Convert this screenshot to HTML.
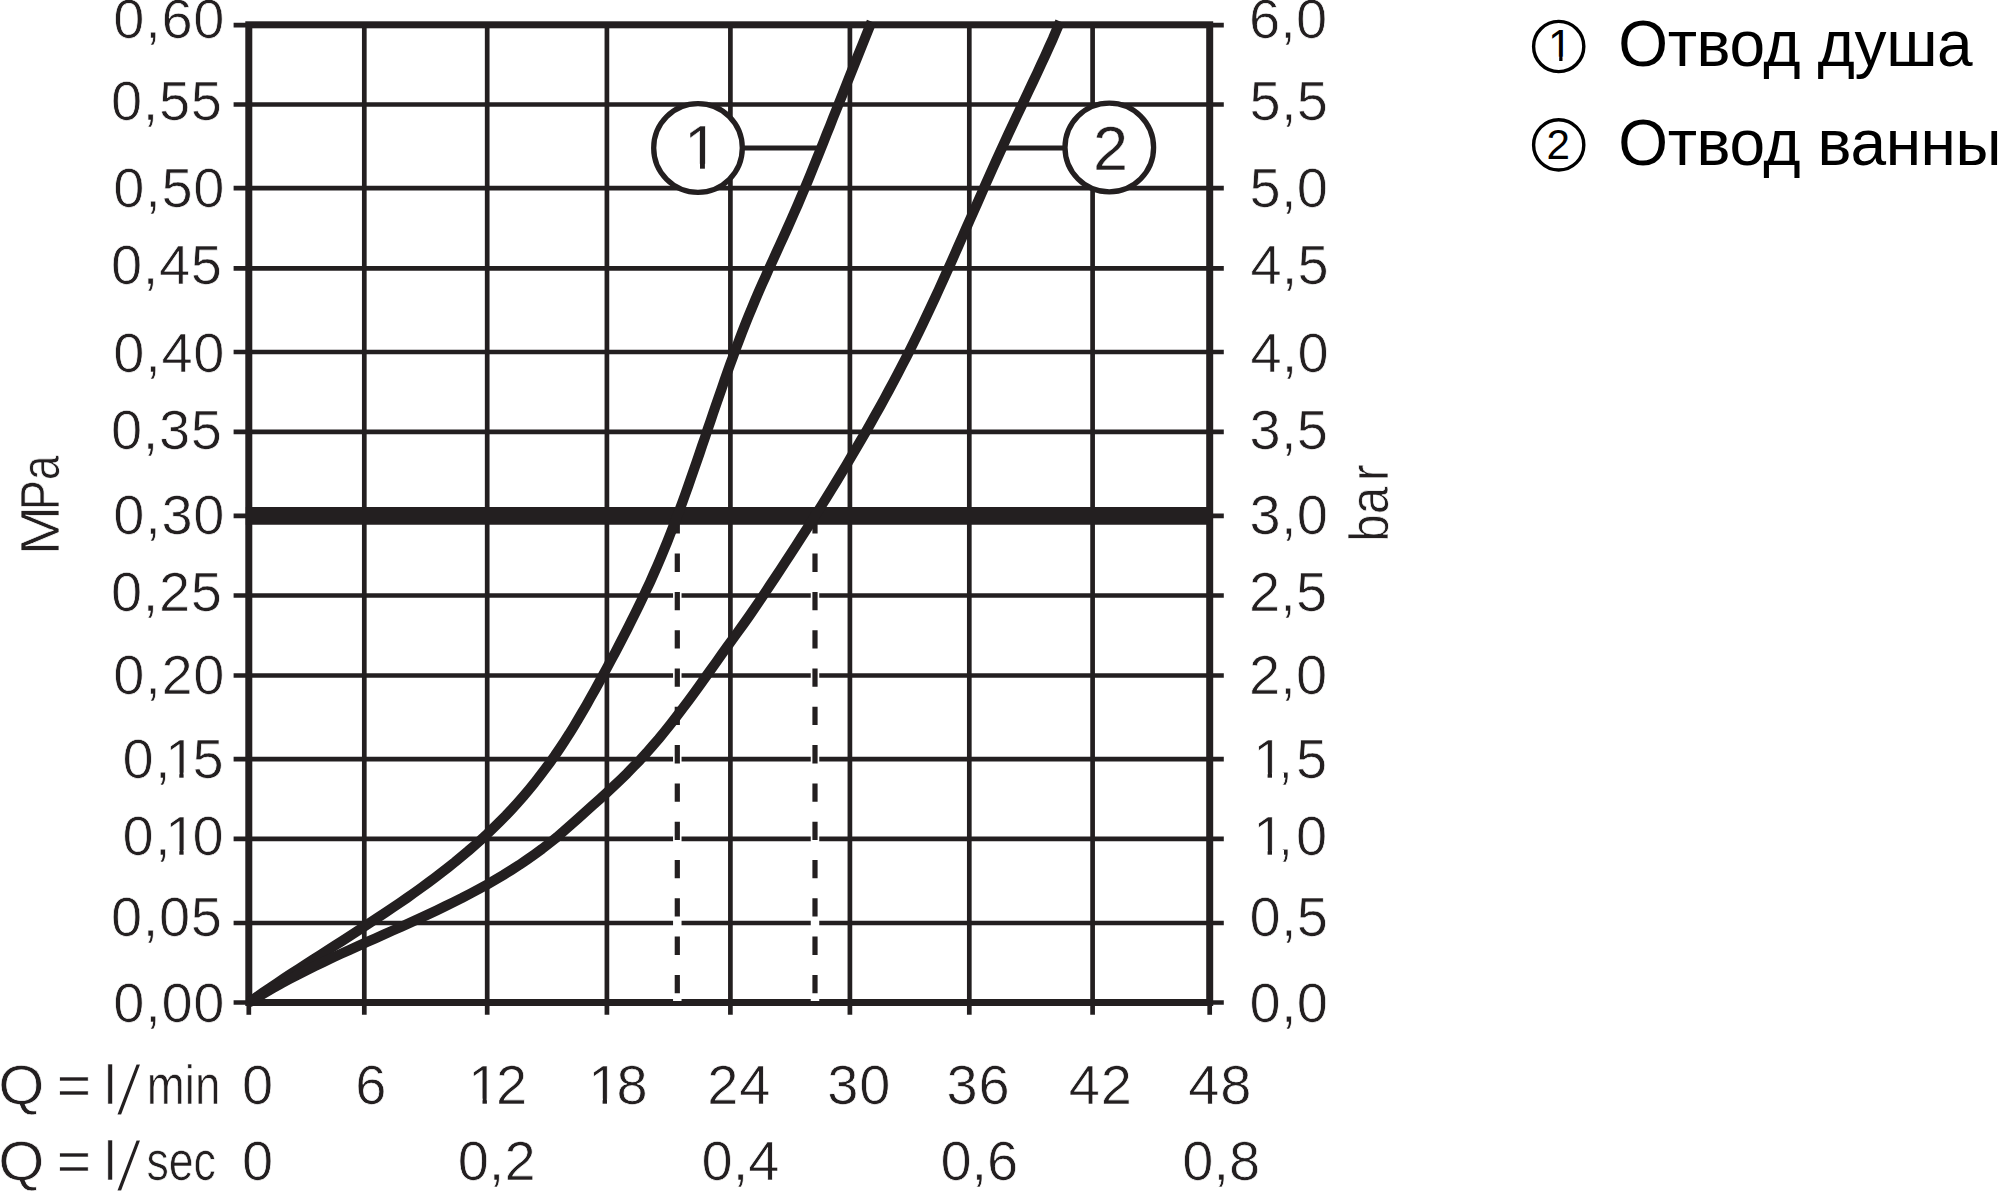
<!DOCTYPE html>
<html lang="ru"><head><meta charset="utf-8"><title>Диаграмма расхода</title>
<style>
html,body{margin:0;padding:0;background:#fff;}
body{width:2000px;height:1192px;overflow:hidden;position:relative;}
svg{position:absolute;left:0;top:0;display:block;}
text{font-family:"Liberation Sans",sans-serif;}
.ax{font-size:56px;fill:#231f20;stroke:#fff;stroke-width:0.7px;}
.cn{fill:#231f20;stroke:#fff;stroke-width:0.4px;}
.lg{font-size:64px;fill:#000;}
.lgd{fill:#000;}
</style></head><body>
<svg width="2000" height="1192" viewBox="0 0 2000 1192">
<rect width="2000" height="1192" fill="#fff"/>
<g stroke="#231f20" stroke-width="4.7" fill="none">
<line x1="364.3" y1="25" x2="364.3" y2="1014.8"/>
<line x1="487.2" y1="25" x2="487.2" y2="1014.8"/>
<line x1="606.9" y1="25" x2="606.9" y2="1014.8"/>
<line x1="730.4" y1="25" x2="730.4" y2="1014.8"/>
<line x1="849.9" y1="25" x2="849.9" y2="1014.8"/>
<line x1="969.3" y1="25" x2="969.3" y2="1014.8"/>
<line x1="1092.6" y1="25" x2="1092.6" y2="1014.8"/>
<line x1="233.6" y1="104.5" x2="1223.8" y2="104.5"/>
<line x1="233.6" y1="188.2" x2="1223.8" y2="188.2"/>
<line x1="233.6" y1="268.3" x2="1223.8" y2="268.3"/>
<line x1="233.6" y1="352.0" x2="1223.8" y2="352.0"/>
<line x1="233.6" y1="431.8" x2="1223.8" y2="431.8"/>
<line x1="233.6" y1="595.5" x2="1223.8" y2="595.5"/>
<line x1="233.6" y1="675.5" x2="1223.8" y2="675.5"/>
<line x1="233.6" y1="759.2" x2="1223.8" y2="759.2"/>
<line x1="233.6" y1="838.9" x2="1223.8" y2="838.9"/>
<line x1="233.6" y1="923.0" x2="1223.8" y2="923.0"/>
<line x1="233.6" y1="25.1" x2="1223.8" y2="25.1"/>
<line x1="233.6" y1="515.8" x2="1223.8" y2="515.8"/>
<line x1="233.6" y1="1002.5" x2="1223.8" y2="1002.5"/>
<line x1="248.8" y1="1000" x2="248.8" y2="1014.8"/>
<line x1="1209.7" y1="1000" x2="1209.7" y2="1014.8"/>
</g>
<rect x="248.8" y="24.8" width="960.9" height="977.7" fill="none" stroke="#231f20" stroke-width="7"/>
<line x1="677.3" y1="520" x2="677.3" y2="1001" stroke="#fff" stroke-width="8.5"/>
<line x1="677.3" y1="515.3" x2="677.3" y2="999" stroke="#231f20" stroke-width="5.2" stroke-dasharray="18.3 20"/>
<line x1="815.0" y1="520" x2="815.0" y2="1001" stroke="#fff" stroke-width="8.5"/>
<line x1="815.0" y1="515.3" x2="815.0" y2="999" stroke="#231f20" stroke-width="5.2" stroke-dasharray="18.3 20"/>
<line x1="245.8" y1="515.8" x2="1212.7" y2="515.8" stroke="#231f20" stroke-width="17.8"/>
<line x1="742" y1="148.1" x2="818" y2="148.1" stroke="#231f20" stroke-width="5"/>
<line x1="1003" y1="148.1" x2="1066" y2="148.1" stroke="#231f20" stroke-width="5"/>
<path d="M248.8 1002.5 L255.8 997.6 L262.8 992.7 L269.9 987.9 L277.0 983.1 L284.2 978.3 L291.4 973.6 L298.6 968.9 L305.8 964.2 L313.1 959.5 L320.3 954.9 L327.6 950.2 L334.9 945.6 L342.1 940.9 L349.4 936.2 L356.7 931.5 L363.9 926.8 L371.1 922.1 L378.3 917.3 L385.5 912.6 L392.7 907.7 L399.8 902.9 L406.9 898.0 L413.9 893.0 L420.9 888.0 L427.9 882.9 L434.8 877.7 L441.6 872.5 L448.4 867.2 L455.1 861.9 L461.7 856.4 L468.3 850.9 L474.8 845.2 L481.2 839.5 L487.5 833.7 L493.7 827.7 L499.8 821.7 L505.9 815.5 L511.8 809.2 L517.6 802.8 L523.3 796.3 L528.9 789.7 L534.4 783.0 L539.7 776.2 L544.9 769.3 L550.0 762.4 L555.0 755.4 L559.8 748.3 L564.5 741.2 L569.1 734.1 L573.6 726.8 L577.9 719.6 L582.3 712.2 L586.5 704.9 L590.7 697.4 L594.9 690.0 L599.0 682.5 L603.1 674.9 L607.2 667.3 L611.3 659.7 L615.4 652.1 L619.4 644.4 L623.4 636.7 L627.4 628.9 L631.3 621.1 L635.2 613.3 L639.0 605.5 L642.8 597.6 L646.5 589.7 L650.2 581.8 L653.7 573.9 L657.2 565.9 L660.6 558.0 L663.9 550.0 L667.2 542.0 L670.3 534.0 L673.5 526.0 L676.5 518.0 L679.5 510.0 L682.5 501.9 L685.4 493.9 L688.3 485.8 L691.1 477.7 L693.9 469.7 L696.7 461.6 L699.5 453.5 L702.2 445.4 L705.0 437.3 L707.7 429.2 L710.5 421.1 L713.2 413.0 L716.0 404.9 L718.8 396.8 L721.6 388.8 L724.4 380.7 L727.2 372.6 L730.1 364.5 L733.1 356.4 L736.0 348.4 L739.1 340.3 L742.1 332.3 L745.3 324.2 L748.5 316.2 L751.8 308.2 L755.1 300.2 L758.5 292.2 L762.0 284.2 L765.6 276.3 L769.1 268.3 L772.8 260.4 L776.4 252.4 L780.0 244.5 L783.6 236.6 L787.2 228.6 L790.7 220.7 L794.2 212.8 L797.7 204.9 L801.0 197.0 L804.4 189.1 L807.7 181.2 L810.9 173.3 L814.1 165.4 L817.3 157.5 L820.5 149.6 L823.7 141.6 L826.8 133.7 L830.0 125.8 L833.1 117.8 L836.3 109.9 L839.5 101.9 L842.7 94.0 L845.8 86.0 L849.0 78.0 L852.2 70.0 L855.4 62.0 L858.6 54.0 L861.9 45.9 L865.1 37.9 L868.3 29.8 L871.6 21.7" fill="none" stroke="#231f20" stroke-width="10.1" stroke-linejoin="round"/>
<path d="M248.8 1002.5 L256.7 997.6 L264.8 992.8 L272.9 988.1 L281.1 983.5 L289.4 979.1 L297.8 974.7 L306.2 970.4 L314.7 966.2 L323.3 962.1 L331.9 958.0 L340.5 954.0 L349.2 950.1 L357.9 946.1 L366.6 942.2 L375.4 938.3 L384.1 934.4 L392.8 930.5 L401.6 926.6 L410.3 922.6 L419.0 918.7 L427.7 914.6 L436.3 910.6 L444.9 906.4 L453.4 902.2 L461.9 898.0 L470.3 893.6 L478.7 889.1 L487.0 884.6 L495.1 879.9 L503.2 875.1 L511.2 870.1 L519.1 865.1 L526.9 859.8 L534.6 854.4 L542.1 848.9 L549.5 843.1 L556.8 837.2 L563.9 831.0 L571.0 824.8 L578.1 818.4 L585.3 812.0 L592.5 805.6 L599.6 799.2 L606.7 792.7 L613.6 786.3 L620.4 779.8 L627.1 773.3 L633.6 766.6 L640.1 759.9 L646.4 753.0 L652.6 745.9 L658.8 738.7 L664.8 731.4 L670.8 723.9 L676.6 716.4 L682.4 708.8 L688.1 701.2 L693.8 693.5 L699.4 685.8 L704.9 678.0 L710.4 670.3 L715.9 662.6 L721.3 654.9 L726.8 647.2 L732.3 639.6 L737.9 631.9 L743.4 624.2 L748.9 616.5 L754.3 608.7 L759.5 601.0 L764.7 593.2 L769.9 585.4 L775.1 577.6 L780.3 569.7 L785.5 561.8 L790.6 553.9 L795.8 546.0 L800.9 538.0 L806.1 530.0 L811.2 522.0 L816.2 513.9 L821.3 505.9 L826.4 497.8 L831.4 489.6 L836.4 481.5 L841.3 473.3 L846.3 465.1 L851.1 456.9 L856.0 448.7 L860.8 440.4 L865.6 432.2 L870.3 423.9 L875.0 415.6 L879.7 407.2 L884.3 398.9 L888.8 390.5 L893.3 382.1 L897.8 373.7 L902.1 365.3 L906.5 356.9 L910.7 348.5 L914.9 340.0 L919.1 331.5 L923.2 323.0 L927.2 314.5 L931.2 306.0 L935.2 297.5 L939.1 289.0 L943.0 280.4 L946.8 271.9 L950.7 263.3 L954.5 254.7 L958.3 246.1 L962.1 237.5 L965.9 228.9 L969.7 220.3 L973.5 211.7 L977.3 203.1 L981.1 194.5 L984.9 185.8 L988.7 177.2 L992.6 168.5 L996.5 159.9 L1000.4 151.3 L1004.4 142.6 L1008.4 133.9 L1012.4 125.3 L1016.5 116.6 L1020.6 108.0 L1024.7 99.3 L1028.8 90.7 L1032.9 82.0 L1037.0 73.4 L1041.0 64.7 L1045.0 56.1 L1048.9 47.4 L1052.8 38.8 L1056.5 30.1 L1060.2 21.5" fill="none" stroke="#231f20" stroke-width="10.1" stroke-linejoin="round"/>
<circle cx="698" cy="148" r="44.3" fill="#fff" stroke="#231f20" stroke-width="5.3"/>
<circle cx="1109.3" cy="147.5" r="44.3" fill="#fff" stroke="#231f20" stroke-width="5.3"/>
<text class="cn" x="683.9" y="169.3" style="font-size:62.5px">1</text>
<text class="cn" x="1093.0" y="169.5" style="font-size:63px">2</text>
<text class="ax" x="113.3" y="38.3" letter-spacing="0.7">0,60</text>
<text class="ax" x="1248.9" y="38.3" letter-spacing="0.25">6,0</text>
<text class="ax" x="110.9" y="120.1" letter-spacing="0.7">0,55</text>
<text class="ax" x="1249.5" y="120.1" letter-spacing="0.25">5,5</text>
<text class="ax" x="113.3" y="206.6" letter-spacing="0.7">0,50</text>
<text class="ax" x="1249.5" y="206.6" letter-spacing="0.25">5,0</text>
<text class="ax" x="110.9" y="284.1" letter-spacing="0.7">0,45</text>
<text class="ax" x="1250.4" y="284.1" letter-spacing="0.25">4,5</text>
<text class="ax" x="113.3" y="371.8" letter-spacing="0.7">0,40</text>
<text class="ax" x="1250.4" y="371.8" letter-spacing="0.25">4,0</text>
<text class="ax" x="110.9" y="448.6" letter-spacing="0.7">0,35</text>
<text class="ax" x="1249.6" y="448.6" letter-spacing="0.25">3,5</text>
<text class="ax" x="113.3" y="534.3" letter-spacing="0.7">0,30</text>
<text class="ax" x="1249.6" y="534.3" letter-spacing="0.25">3,0</text>
<text class="ax" x="110.9" y="610.9" letter-spacing="0.7">0,25</text>
<text class="ax" x="1248.9" y="610.9" letter-spacing="0.25">2,5</text>
<text class="ax" x="113.3" y="693.5" letter-spacing="0.7">0,20</text>
<text class="ax" x="1248.9" y="693.5" letter-spacing="0.25">2,0</text>
<text class="ax" y="777.6"><tspan x="122.6" letter-spacing="1.2">0,</tspan><tspan x="164.9">1</tspan><tspan x="192.6">5</tspan></text>
<text class="ax" y="777.6"><tspan x="1253.2">1</tspan><tspan x="1277.6">,</tspan><tspan x="1296.0">5</tspan></text>
<text class="ax" y="855.0"><tspan x="122.6" letter-spacing="1.2">0,</tspan><tspan x="164.9">1</tspan><tspan x="192.6">0</tspan></text>
<text class="ax" y="855.0"><tspan x="1253.2">1</tspan><tspan x="1277.6">,</tspan><tspan x="1296.0">0</tspan></text>
<text class="ax" x="110.9" y="936.3" letter-spacing="0.7">0,05</text>
<text class="ax" x="1249.5" y="936.3" letter-spacing="0.25">0,5</text>
<text class="ax" x="113.3" y="1022.3" letter-spacing="0.7">0,00</text>
<text class="ax" x="1249.5" y="1022.3" letter-spacing="0.25">0,0</text>
<text class="ax" x="241.9" y="1103.6">0</text>
<text class="ax" x="355.2" y="1103.6">6</text>
<text class="ax" x="707.2" y="1103.6" letter-spacing="0.8">24</text>
<text class="ax" x="827.3" y="1103.6" letter-spacing="0.8">30</text>
<text class="ax" x="946.6" y="1103.6" letter-spacing="0.8">36</text>
<text class="ax" x="1068.8" y="1103.6" letter-spacing="0.8">42</text>
<text class="ax" x="1188.2" y="1103.6" letter-spacing="0.8">48</text>
<text class="ax" y="1103.6"><tspan x="468.1">1</tspan><tspan x="496.0">2</tspan></text>
<text class="ax" y="1103.6"><tspan x="588.2">1</tspan><tspan x="616.5">8</tspan></text>
<text class="ax" x="241.9" y="1180.4">0</text>
<text class="ax" x="457.7" y="1180.4">0,2</text>
<text class="ax" x="701.6" y="1180.4">0,4</text>
<text class="ax" x="940.4" y="1180.4">0,6</text>
<text class="ax" x="1182.3" y="1180.4">0,8</text>
<text class="ax" y="1103.6"><tspan x="-1.8" textLength="62.7" lengthAdjust="spacingAndGlyphs">Q </tspan><tspan x="56.7" textLength="50.8" lengthAdjust="spacingAndGlyphs">= </tspan><tspan x="104.1">l</tspan><tspan x="114.7" dy="11" style="font-size:72px;stroke-width:2.9px" textLength="28" lengthAdjust="spacingAndGlyphs">/</tspan><tspan x="146.8" dy="-11" textLength="73.5" lengthAdjust="spacingAndGlyphs">min</tspan></text>
<text class="ax" y="1180.4"><tspan x="-1.8" textLength="62.7" lengthAdjust="spacingAndGlyphs">Q </tspan><tspan x="56.7" textLength="50.8" lengthAdjust="spacingAndGlyphs">= </tspan><tspan x="104.1">l</tspan><tspan x="114.7" dy="11" style="font-size:72px;stroke-width:2.9px" textLength="28" lengthAdjust="spacingAndGlyphs">/</tspan><tspan x="146.4" dy="-11" textLength="69.5" lengthAdjust="spacingAndGlyphs">sec</tspan></text>
<text class="ax" transform="translate(58.6 555.5) rotate(-90)"><tspan x="0.0" textLength="50" lengthAdjust="spacingAndGlyphs">M</tspan><tspan x="45.5" textLength="54.7" lengthAdjust="spacingAndGlyphs">Pa</tspan></text>
<text class="ax" transform="translate(1388.3 541.8) rotate(-90)"><tspan x="0.0" textLength="55" lengthAdjust="spacingAndGlyphs">ba</tspan><tspan x="60.6" textLength="17" lengthAdjust="spacingAndGlyphs">r</tspan></text>
<circle cx="1558.7" cy="46.5" r="25.1" fill="none" stroke="#000" stroke-width="3.4"/>
<text class="lgd" x="1547.9" y="60.8" style="font-size:43.6px">1</text>
<text class="lg" x="1618.3" y="66.1" letter-spacing="-0.4">Отвод душа</text>
<circle cx="1558.7" cy="144.9" r="25.1" fill="none" stroke="#000" stroke-width="3.4"/>
<text class="lgd" x="1546.4" y="159.4" style="font-size:42.2px">2</text>
<text class="lg" x="1618.3" y="164.9" letter-spacing="-0.4">Отвод ванны</text>
<rect x="687.7" y="163.8" width="12.3" height="6.3" fill="#fff"/>
<rect x="704.9" y="163.8" width="13.3" height="6.3" fill="#fff"/>
<rect x="168.3" y="772.6" width="11.0" height="5.8" fill="#fff"/>
<rect x="183.6" y="772.6" width="12.0" height="5.8" fill="#fff"/>
<rect x="1256.6" y="772.6" width="11.0" height="5.8" fill="#fff"/>
<rect x="1272.0" y="772.6" width="12.0" height="5.8" fill="#fff"/>
<rect x="168.3" y="850.0" width="11.0" height="5.8" fill="#fff"/>
<rect x="183.6" y="850.0" width="12.0" height="5.8" fill="#fff"/>
<rect x="1256.6" y="850.0" width="11.0" height="5.8" fill="#fff"/>
<rect x="1272.0" y="850.0" width="12.0" height="5.8" fill="#fff"/>
<rect x="471.5" y="1098.6" width="11.0" height="5.8" fill="#fff"/>
<rect x="486.9" y="1098.6" width="12.0" height="5.8" fill="#fff"/>
<rect x="591.6" y="1098.6" width="11.0" height="5.8" fill="#fff"/>
<rect x="607.0" y="1098.6" width="12.0" height="5.8" fill="#fff"/>
<rect x="1550.6" y="56.7" width="8.6" height="4.9" fill="#fff"/>
<rect x="1562.5" y="56.7" width="9.4" height="4.9" fill="#fff"/>
</svg>
</body></html>
